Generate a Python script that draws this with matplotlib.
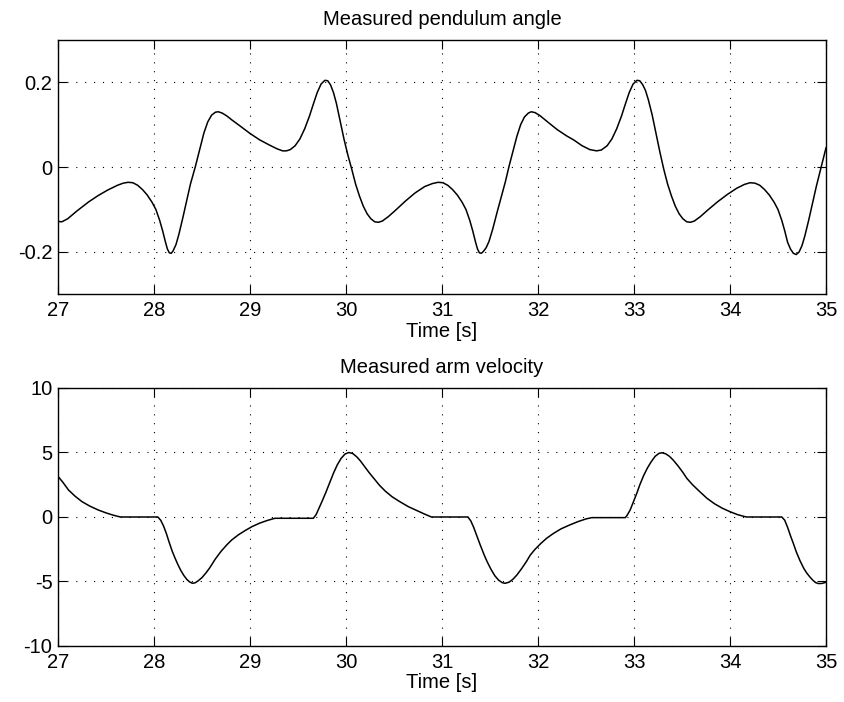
# Measured pendulum angle and arm velocity (MATLAB-style two-panel plot)

import matplotlib
matplotlib.use('Agg')
import matplotlib.pyplot as plt

plt.rcParams['font.family'] = ['Liberation Sans', 'DejaVu Sans']
plt.rcParams['axes.unicode_minus'] = False

# pendulum angle
t_ang = [27.00, 27.04, 27.10, 27.20, 27.32, 27.42, 27.52, 27.62, 27.68, 27.73,
         27.78, 27.83, 27.88, 27.93, 27.98, 28.02, 28.06, 28.09, 28.12, 28.14,
         28.16, 28.18, 28.20, 28.23, 28.26, 28.30, 28.34, 28.38, 28.43, 28.48,
         28.52, 28.56, 28.60, 28.64, 28.67, 28.71, 28.76, 28.81, 28.90, 29.00,
         29.10, 29.20, 29.28, 29.34, 29.38, 29.42, 29.47, 29.52, 29.57, 29.62,
         29.66, 29.70, 29.74, 29.78, 29.81, 29.84, 29.87, 29.90, 29.94, 29.98,
         30.02, 30.06, 30.10, 30.14, 30.18, 30.22, 30.26, 30.30, 30.34, 30.38,
         30.44, 30.52, 30.62, 30.72, 30.82, 30.90, 30.96, 31.01, 31.06, 31.11,
         31.16, 31.21, 31.25, 31.29, 31.32, 31.35, 31.37, 31.39, 31.41, 31.43,
         31.46, 31.49, 31.53, 31.57, 31.62, 31.66, 31.70, 31.74, 31.78, 31.82,
         31.86, 31.90, 31.93, 31.97, 32.02, 32.09, 32.20, 32.30, 32.37, 32.46,
         32.54, 32.61, 32.66, 32.72, 32.77, 32.82, 32.87, 32.91, 32.95, 32.99,
         33.03, 33.06, 33.09, 33.12, 33.15, 33.19, 33.23, 33.27, 33.31, 33.35,
         33.39, 33.43, 33.47, 33.51, 33.55, 33.59, 33.63, 33.69, 33.77, 33.87,
         33.97, 34.07, 34.15, 34.21, 34.26, 34.31, 34.36, 34.41, 34.46, 34.50,
         34.54, 34.57, 34.60, 34.63, 34.66, 34.69, 34.72, 34.75, 34.78, 34.82,
         34.86, 34.90, 34.95, 35.00]
angle = [-0.128, -0.129, -0.122, -0.103, -0.082, -0.067, -0.054, -0.043, -0.038, -0.036,
         -0.037, -0.043, -0.053, -0.066, -0.083, -0.100, -0.126, -0.150, -0.177, -0.193,
         -0.202, -0.203, -0.197, -0.182, -0.158, -0.120, -0.080, -0.040, 0.000, 0.045,
         0.080, 0.106, 0.122, 0.129, 0.130, 0.127, 0.120, 0.111, 0.096, 0.079,
         0.064, 0.052, 0.043, 0.038, 0.038, 0.041, 0.050, 0.066, 0.090, 0.120,
         0.148, 0.175, 0.195, 0.204, 0.203, 0.193, 0.175, 0.150, 0.108, 0.065,
         0.028, -0.005, -0.040, -0.068, -0.092, -0.110, -0.122, -0.129, -0.130, -0.127,
         -0.117, -0.101, -0.080, -0.061, -0.046, -0.039, -0.036, -0.037, -0.043, -0.053,
         -0.066, -0.083, -0.100, -0.126, -0.150, -0.177, -0.193, -0.202, -0.203, -0.199,
         -0.190, -0.175, -0.145, -0.110, -0.068, -0.035, 0.003, 0.038, 0.072, 0.100,
         0.118, 0.127, 0.130, 0.128, 0.121, 0.108, 0.088, 0.073, 0.064, 0.050,
         0.041, 0.038, 0.040, 0.050, 0.066, 0.090, 0.120, 0.148, 0.175, 0.195,
         0.204, 0.203, 0.194, 0.180, 0.158, 0.122, 0.078, 0.035, -0.005, -0.040,
         -0.068, -0.092, -0.110, -0.122, -0.129, -0.130, -0.127, -0.117, -0.101, -0.082,
         -0.065, -0.050, -0.041, -0.037, -0.038, -0.043, -0.053, -0.066, -0.083, -0.100,
         -0.126, -0.150, -0.177, -0.193, -0.203, -0.206, -0.200, -0.185, -0.162, -0.125,
         -0.085, -0.045, 0.000, 0.045]

# arm velocity
t_vel = [27.00, 27.05, 27.11, 27.18, 27.25, 27.33, 27.42, 27.50, 27.58, 27.65,
         28.04, 28.07, 28.10, 28.13, 28.16, 28.19, 28.22, 28.25, 28.28, 28.31,
         28.34, 28.37, 28.40, 28.43, 28.46, 28.50, 28.54, 28.58, 28.64, 28.70,
         28.76, 28.81, 28.88, 28.95, 29.02, 29.10, 29.18, 29.26, 29.66, 29.69,
         29.72, 29.75, 29.79, 29.83, 29.87, 29.91, 29.95, 29.99, 30.03, 30.07,
         30.11, 30.15, 30.19, 30.24, 30.30, 30.35, 30.41, 30.48, 30.56, 30.65,
         30.74, 30.82, 30.89, 31.27, 31.30, 31.33, 31.36, 31.40, 31.44, 31.47,
         31.51, 31.55, 31.59, 31.63, 31.66, 31.70, 31.74, 31.78, 31.83, 31.88,
         31.92, 31.97, 32.03, 32.09, 32.16, 32.24, 32.33, 32.42, 32.50, 32.56,
         32.91, 32.93, 32.96, 32.99, 33.03, 33.06, 33.10, 33.14, 33.18, 33.22,
         33.26, 33.29, 33.33, 33.37, 33.41, 33.46, 33.51, 33.55, 33.61, 33.68,
         33.76, 33.84, 33.92, 34.00, 34.08, 34.17, 34.54, 34.57, 34.60, 34.63,
         34.66, 34.69, 34.73, 34.77, 34.80, 34.83, 34.86, 34.89, 34.92, 34.96,
         35.00]
velocity = [3.15, 2.70, 2.09, 1.60, 1.19, 0.85, 0.54, 0.32, 0.13, 0.00,
            0.00, -0.25, -0.70, -1.30, -2.00, -2.65, -3.20, -3.70, -4.15, -4.52,
            -4.82, -5.03, -5.14, -5.10, -4.95, -4.70, -4.35, -3.95, -3.25, -2.65,
            -2.15, -1.78, -1.38, -1.05, -0.75, -0.48, -0.27, -0.10, -0.10, 0.20,
            0.70, 1.20, 1.90, 2.65, 3.40, 4.05, 4.55, 4.88, 5.00, 4.92,
            4.68, 4.35, 3.95, 3.45, 2.90, 2.45, 2.00, 1.57, 1.19, 0.80,
            0.49, 0.22, 0.00, 0.00, -0.30, -0.80, -1.40, -2.20, -2.95, -3.46,
            -4.05, -4.55, -4.90, -5.10, -5.14, -5.05, -4.82, -4.50, -4.00, -3.45,
            -2.95, -2.50, -2.05, -1.65, -1.28, -0.92, -0.62, -0.35, -0.15, -0.05,
            -0.05, 0.15, 0.54, 1.10, 1.85, 2.48, 3.20, 3.80, 4.29, 4.70,
            4.93, 4.98, 4.90, 4.70, 4.40, 3.95, 3.45, 3.00, 2.50, 2.00,
            1.45, 1.02, 0.68, 0.41, 0.18, 0.00, 0.00, -0.25, -0.80, -1.45,
            -2.05, -2.69, -3.40, -4.00, -4.35, -4.63, -4.88, -5.08, -5.16, -5.15,
            -5.06]

xticks = [27, 28, 29, 30, 31, 32, 33, 34, 35]
ang_ticks = [-0.2, 0, 0.2]
ang_labels = ['-0.2', '0', '0.2']
vel_ticks = [-10, -5, 0, 5, 10]

fs = 14.5
fig = plt.figure(figsize=(8.45, 7.02), dpi=100)
ax1 = fig.add_axes([0.0686, 0.5805, 0.9089, 0.3632])
ax2 = fig.add_axes([0.0686, 0.0798, 0.9089, 0.3675])


def style(ax):
    ax.set_xlim(27, 35)
    ax.set_xticks(xticks)
    ax.grid(True, color='black', linestyle=(0, (1, 7)), linewidth=0.8)
    ax.tick_params(direction='in', length=6.5, width=0.8, top=True, right=True,
                   labelsize=fs, pad=5)
    ax.tick_params(axis='y', pad=4)
    for s in ax.spines.values():
        s.set_linewidth(1.0)
    ax.set_xlabel('Time [s]', fontsize=fs, labelpad=1)


ax1.plot(t_ang, angle, color='black', linewidth=1.1)
ax1.set_ylim(-0.3, 0.3)
ax1.set_yticks(ang_ticks)
ax1.set_yticklabels(ang_labels)
ax1.set_title('Measured pendulum angle', fontsize=fs, pad=10.5)
style(ax1)

ax2.plot(t_vel, velocity, color='black', linewidth=1.1)
ax2.set_ylim(-10, 10)
ax2.set_yticks(vel_ticks)
ax2.set_title('Measured arm velocity', fontsize=fs, pad=10.5)
style(ax2)

plt.savefig('out.png', dpi=100)
